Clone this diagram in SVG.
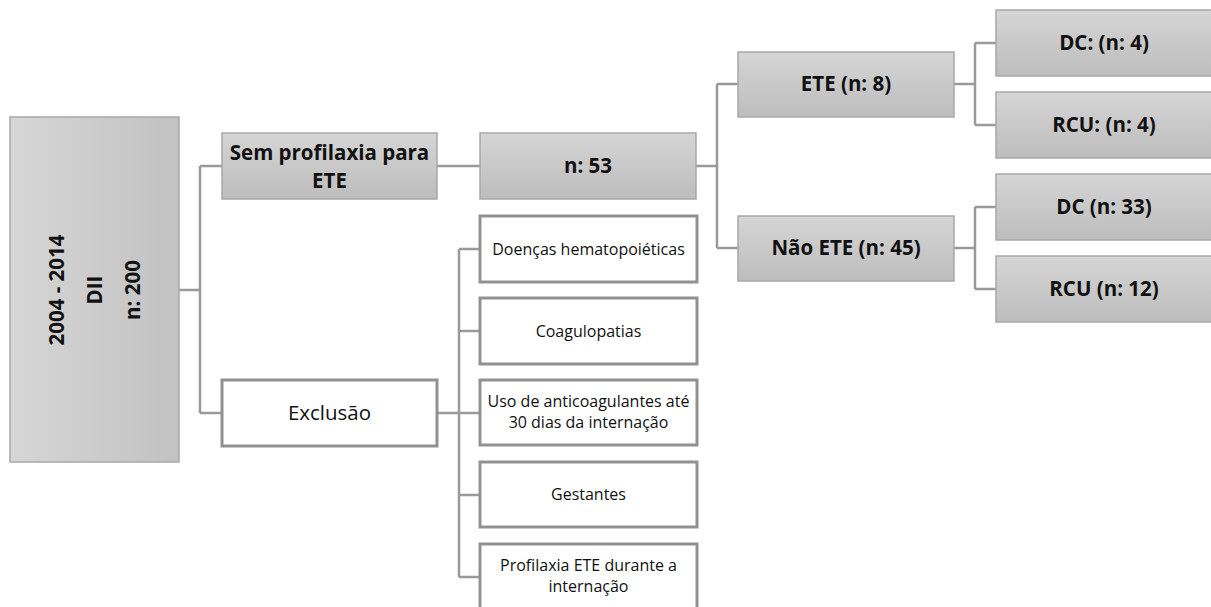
<svg xmlns="http://www.w3.org/2000/svg" width="1211" height="607" viewBox="0 0 1211 607">
<defs>
<linearGradient id="gv" x1="0" y1="0" x2="0" y2="1"><stop offset="0" stop-color="#d5d5d5"/><stop offset="1" stop-color="#bdbdbd"/></linearGradient>
<linearGradient id="gh" x1="0" y1="0" x2="1" y2="0"><stop offset="0" stop-color="#d6d6d6"/><stop offset="1" stop-color="#c2c2c2"/></linearGradient>
<style>
.g{fill:url(#gv);stroke:#a8a8a8;stroke-width:1.5}
.w{fill:#fff;stroke:#919191;stroke-width:3}
.c{fill:none;stroke:#9a9a9a;stroke-width:2.5}
.b{font-family:"Open Sans","Noto Sans",sans-serif;font-weight:bold;font-size:20.5px;fill:#111;text-anchor:middle}
.r{font-family:"Open Sans","Noto Sans",sans-serif;font-size:20.5px;fill:#111;text-anchor:middle}
.s{font-family:"Open Sans","Noto Sans",sans-serif;font-size:16px;fill:#111;text-anchor:middle}
</style>
</defs>
<rect width="1211" height="607" fill="#fff"/>
<g id="connectors">
<path class="c" d="M179 290H200M200 166V413M200 166H222M200 413H222"/>
<path class="c" d="M437 166H480"/>
<path class="c" d="M696 166H717M717 84V248M717 84H738M717 248H738"/>
<path class="c" d="M954 84H975M975 43V125M975 43H996M975 125H996"/>
<path class="c" d="M954 248H975M975 207V289M975 207H996M975 289H996"/>
<path class="c" d="M437 413H459M459 249V577M459 249H480M459 331H480M459 413H480M459 495H480M459 577H480"/>
</g>
<g id="n-main">
<rect x="10" y="117" width="169" height="345" fill="url(#gh)" stroke="#a8a8a8" stroke-width="1.5"/>
<g transform="translate(95 290) rotate(-90)">
<text class="b" x="0" y="-31">2004 - 2014</text>
<text class="b" x="0" y="7">DII</text>
<text class="b" x="0" y="45">n: 200</text>
</g>
</g>
<g id="n-sem">
<rect class="g" x="222" y="133" width="215" height="66"/>
<text class="b" x="329.5" y="160">Sem profilaxia para</text>
<text class="b" x="329.5" y="188">ETE</text>
</g>
<g id="n-53">
<rect class="g" x="480" y="133" width="216" height="66"/>
<text class="b" x="588" y="173">n: 53</text>
</g>
<g id="n-ete">
<rect class="g" x="738" y="52" width="216" height="65"/>
<text class="b" x="846" y="91">ETE (n: 8)</text>
</g>
<g id="n-naoete">
<rect class="g" x="738" y="216" width="216" height="65"/>
<text class="b" x="846" y="255">Não ETE (n: 45)</text>
</g>
<g id="n-dc4">
<rect class="g" x="996" y="10" width="216" height="66"/>
<text class="b" x="1104" y="50">DC: (n: 4)</text>
</g>
<g id="n-rcu4">
<rect class="g" x="996" y="92" width="216" height="66"/>
<text class="b" x="1104" y="132">RCU: (n: 4)</text>
</g>
<g id="n-dc33">
<rect class="g" x="996" y="174" width="216" height="66"/>
<text class="b" x="1104" y="214">DC (n: 33)</text>
</g>
<g id="n-rcu12">
<rect class="g" x="996" y="256" width="216" height="66"/>
<text class="b" x="1104" y="296">RCU (n: 12)</text>
</g>
<g id="n-exclusao">
<rect class="w" x="222" y="380" width="215" height="66"/>
<text class="r" x="329.5" y="420">Exclusão</text>
</g>
<g id="n-doencas">
<rect class="w" x="480" y="216" width="217" height="66"/>
<text class="s" x="588.5" y="255">Doenças hematopoiéticas</text>
</g>
<g id="n-coag">
<rect class="w" x="480" y="298" width="217" height="66"/>
<text class="s" x="588.5" y="337">Coagulopatias</text>
</g>
<g id="n-uso">
<rect class="w" x="480" y="380" width="217" height="65"/>
<text class="s" x="588.5" y="407">Uso de anticoagulantes até</text>
<text class="s" x="588.5" y="428">30 dias da internação</text>
</g>
<g id="n-gest">
<rect class="w" x="480" y="462" width="217" height="65"/>
<text class="s" x="588.5" y="500">Gestantes</text>
</g>
<g id="n-prof">
<rect class="w" x="480" y="544" width="217" height="66"/>
<text class="s" x="588.5" y="571">Profilaxia ETE durante a</text>
<text class="s" x="588.5" y="592">internação</text>
</g>
</svg>
